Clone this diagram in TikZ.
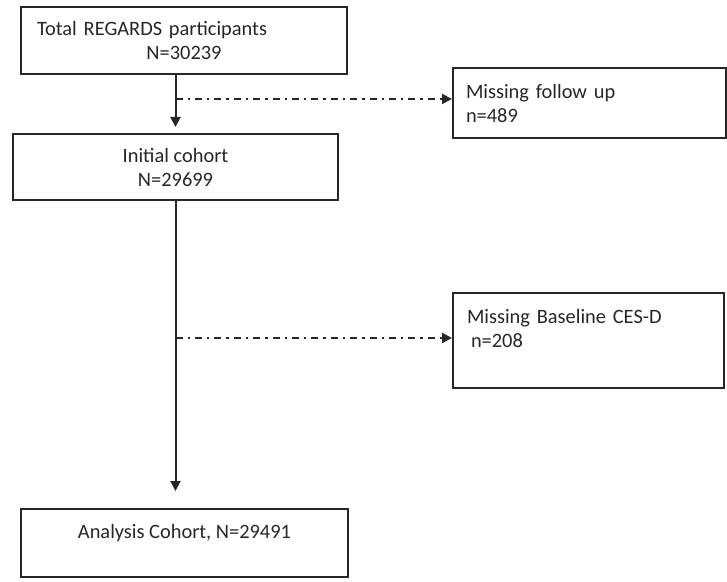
\documentclass[tikz,border=0pt]{standalone}
\usepackage{fontspec}
\setmainfont{Carlito}
\usetikzlibrary{calc, arrows.meta}
\tikzset{>={Triangle[length=5pt, width=5pt]}}
\colorlet{myline}{black!85}
\colorlet{mytext}{black!85}
\tikzset{
  stage/.style={draw=myline, line width=1pt, text=mytext, font=\fontsize{10.2}{12}\selectfont},
  flow/.style={->, draw=myline, line width=1pt},
  drop/.style={->, draw=myline, line width=1pt, dash pattern=on 3.5pt off 2.5pt on 1.2pt off 2.5pt},
}

\begin{document}
\begin{tikzpicture}[x=0.5pt, y=-0.5pt]
  \useasboundingbox (0,0) rectangle (727,582);

  \node[stage, minimum width=163pt, minimum height=33.5pt, text width=147pt, inner xsep=8pt, align=left] (total) at (184,40.5) {Total REGARDS participants\\ \hspace*{\fill}N=30239\hspace*{\fill}};
  \node[stage, minimum width=162.5pt, minimum height=33pt, align=center] (init) at (175.5,167) {Initial cohort\\ N=29699};
  \node[stage, minimum width=136.5pt, minimum height=35pt, text width=123.5pt, inner xsep=6.5pt, align=left] (lost) at (589.5,103) {Missing follow up\\ n=489};
  \node[stage, minimum width=135.5pt, minimum height=47.5pt, text width=121.5pt, inner xsep=7pt, align=left] (nocesd) at (588.5,340.5) {Missing Baseline CES-D\\ \hspace*{2pt}n=208\\ \mbox{}};
  \node[stage, minimum width=163.5pt, minimum height=34pt, align=center] (final) at (184.5,543) {Analysis Cohort, N=29491\\ \mbox{}};

  % branch points on the main line
  \path (init.north) ++(0,-34) coordinate (fork1);
  \path (init.south) ++(0,137) coordinate (fork2);

  \draw[flow, shorten >=3pt] (total.south -| init.north) -- (init.north);
  \draw[flow, shorten >=8.5pt] (init.south) -- (init.south |- final.north);
  \draw[drop] (fork1) -- (fork1 -| lost.west);
  \draw[drop] (fork2) -- (fork2 -| nocesd.west);
\end{tikzpicture}
\end{document}
